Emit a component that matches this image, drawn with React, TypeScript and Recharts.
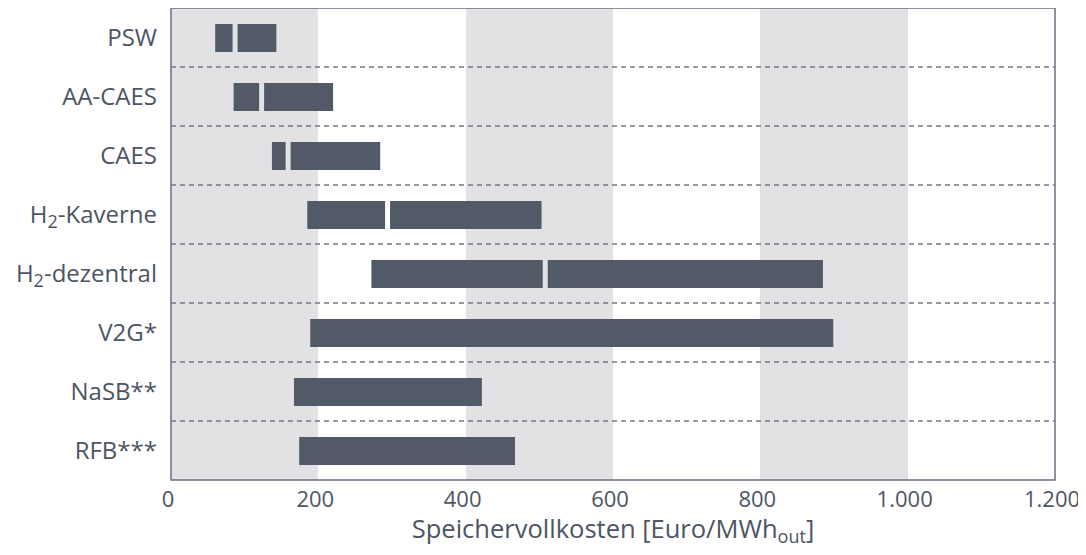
import React from 'react';
import { BarChart, Bar, XAxis, YAxis, CartesianGrid, ReferenceArea } from 'recharts';

const categories = ['PSW', 'AA-CAES', 'CAES', 'H2-Kaverne', 'H2-dezentral', 'V2G*', 'NaSB**', 'RFB***'];
const minCost = [60, 85, 137, 185, 272, 189, 167, 174];
const midCost: (number | null)[] = [87, 123, 159, 294, 508, null, null, null];
const maxCost = [143, 220, 284, 503, 885, 899, 422, 467];
const xTicks = [0, 200, 400, 600, 800, 1000, 1200];

const BAR = '#525a68';
const BAND = '#e2e2e4';
const TEXT = '#4d5563';
const FONT = '"Open Sans", sans-serif';
const GAP = 5;

const data = categories.map((name, i) => {
  const mid = midCost[i];
  return {
    name,
    base: minCost[i],
    lower: (mid ?? maxCost[i]) - minCost[i],
    upper: mid == null ? 0 : maxCost[i] - mid,
    hasMid: mid != null,
  };
});

const fmt = (v: number) => String(v).replace(/\B(?=(\d{3})+(?!\d))/g, '.');

function LowerShape(props: any) {
  const { x, y, width, height, payload } = props;
  const w = payload.hasMid ? width - GAP / 2 : width;
  if (!(w > 0)) return null;
  return <rect x={x} y={y} width={w} height={height} fill={BAR} />;
}

function UpperShape(props: any) {
  const { x, y, width, height } = props;
  if (!(width > GAP / 2)) return null;
  return <rect x={x + GAP / 2} y={y} width={width - GAP / 2} height={height} fill={BAR} />;
}

function CategoryTick(props: any) {
  const { x, y, payload } = props;
  const v: string = payload.value;
  const sub = v.startsWith('H2');
  return (
    <text x={x} y={y} dy="0.36em" textAnchor="end" fill={TEXT} fontSize={24} fontFamily={FONT}>
      {sub ? (
        <>
          H
          <tspan fontSize={18} dy={5}>2</tspan>
          <tspan dy={-5}>{v.slice(2)}</tspan>
        </>
      ) : (
        v
      )}
    </text>
  );
}

function ValueTick(props: any) {
  const { x, y, payload } = props;
  return (
    <text x={x - 3} y={y} dy="0.71em" textAnchor="middle" fill={TEXT} fontSize={22} fontFamily={FONT}>
      {fmt(payload.value)}
    </text>
  );
}

function AxisTitle(props: any) {
  const { viewBox } = props;
  const cx = viewBox.x + viewBox.width / 2;
  return (
    <text x={cx} y={viewBox.y + 58} textAnchor="middle" fill={TEXT} fontSize={25.5} fontFamily={FONT}>
      Speichervollkosten [Euro/MWh
      <tspan fontSize={18} dy={5}>out</tspan>
      <tspan dy={-5}>]</tspan>
    </text>
  );
}

export default function App() {
  return (
    <div style={{ margin: -8, background: '#fff' }}>
      <BarChart
        width={1086}
        height={555}
        data={data}
        layout="vertical"
        margin={{ top: 8, right: 31, bottom: 0, left: 0 }}
        barSize={28}
      >
        <CartesianGrid
          horizontal={false}
          vertical
          stroke="none"
          verticalFill={[BAND, '#ffffff']}
          fillOpacity={1}
        />
        <CartesianGrid
          vertical={false}
          stroke="#737884"
          strokeWidth={1.3}
          strokeDasharray="5 4"
          horizontalCoordinatesGenerator={({ offset }: any) =>
            categories.slice(1).map((_, k) => offset.top + (offset.height * (k + 1)) / categories.length)
          }
        />
        <XAxis
          type="number"
          domain={[0, 1200]}
          ticks={xTicks}
          axisLine={false}
          tickLine={false}
          tickSize={0}
          tickMargin={11}
          height={75}
          tick={ValueTick}
          interval={0}
          label={{ content: AxisTitle }}
        />
        <YAxis
          type="category"
          dataKey="name"
          width={171}
          axisLine={false}
          tickLine={false}
          tickSize={0}
          tickMargin={14}
          tick={CategoryTick}
          interval={0}
        />
        <ReferenceArea x1={0} x2={1200} fill="none" stroke="#6b7080" strokeWidth={1.5} />
        <Bar dataKey="base" stackId="s" fill="transparent" isAnimationActive={false} />
        <Bar dataKey="lower" stackId="s" fill={BAR} shape={LowerShape} isAnimationActive={false} />
        <Bar dataKey="upper" stackId="s" fill={BAR} shape={UpperShape} isAnimationActive={false} />
      </BarChart>
    </div>
  );
}
